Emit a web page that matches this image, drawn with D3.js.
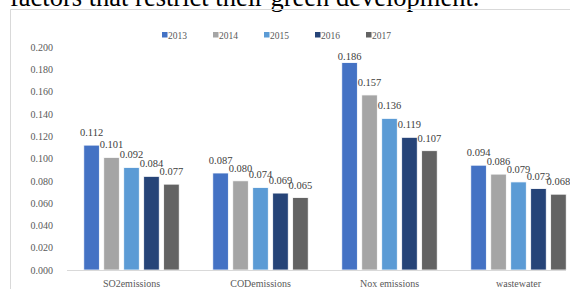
<!DOCTYPE html>
<html>
<head>
<meta charset="utf-8">
<style>
body { margin: 0; background: #fff; }
svg { display: block; font-family: "Liberation Serif", "Times New Roman", serif; }
</style>
</head>
<body>
<script src="https://cdn.jsdelivr.net/npm/d3@7/dist/d3.min.js"></script>
<script>
var categories = ["SO2emissions", "CODemissions", "Nox emissions", "wastewater"];
var years = ["2013", "2014", "2015", "2016", "2017"];
var v2013 = [0.112, 0.087, 0.186, 0.094];
var v2014 = [0.101, 0.080, 0.157, 0.086];
var v2015 = [0.092, 0.074, 0.136, 0.079];
var v2016 = [0.084, 0.069, 0.119, 0.073];
var v2017 = [0.077, 0.065, 0.107, 0.068];
var yTicks = [0, 0.02, 0.04, 0.06, 0.08, 0.10, 0.12, 0.14, 0.16, 0.18, 0.20];

var series = [v2013, v2014, v2015, v2016, v2017];
var colors = ["#4472c4", "#a5a5a5", "#5b9bd5", "#264478", "#636363"];

var width = 570, height = 289;

var svg = d3.select("body").append("svg")
    .attr("width", width)
    .attr("height", height);

// caption text from the page above the chart, cut off at the top
svg.append("text")
    .attr("x", 10)
    .attr("y", 6)
    .style("font-size", "26.5px")
    .style("fill", "#000")
    .text("factors that restrict their green development.");

// chart frame
svg.append("path")
    .attr("d", "M10.5,289 V9.5 H570")
    .attr("fill", "none")
    .attr("stroke", "#d9d9d9");

var y = d3.scaleLinear().domain([0, 0.2]).range([270, 47]);

var x0 = d3.scaleBand()
    .domain(categories)
    .range([67, 583])
    .paddingInner(0.26)
    .paddingOuter(0.13);

var x1 = d3.scaleBand()
    .domain(years)
    .range([0, x0.bandwidth()])
    .paddingInner(0.22);

// y axis labels
var yAxis = d3.axisLeft(y)
    .tickValues(yTicks)
    .tickSize(0)
    .tickPadding(0)
    .tickFormat(d3.format(".3f"));

var ga = svg.append("g")
    .attr("transform", "translate(53,0)")
    .call(yAxis);
ga.select(".domain").remove();
ga.selectAll("text")
    .style("font-family", "Liberation Serif, serif")
    .style("font-size", "10px")
    .style("fill", "#595959");

// bars
var groups = svg.selectAll("g.cat")
    .data(categories)
    .enter().append("g")
    .attr("class", "cat")
    .attr("transform", function(d) { return "translate(" + x0(d) + ",0)"; });

groups.each(function(c, ci) {
    var g = d3.select(this);
    var rows = years.map(function(yr, si) { return { year: yr, value: series[si][ci], color: colors[si] }; });
    g.selectAll("rect")
        .data(rows)
        .enter().append("rect")
        .attr("x", function(d) { return x1(d.year); })
        .attr("y", function(d) { return y(d.value); })
        .attr("width", x1.bandwidth())
        .attr("height", function(d) { return y(0) - y(d.value); })
        .attr("fill", function(d) { return d.color; })
        .attr("stroke", "#ffffff")
        .attr("stroke-width", 0.8);
    g.selectAll("text.lbl")
        .data(rows)
        .enter().append("text")
        .attr("class", "lbl")
        .attr("x", function(d) { return x1(d.year) + x1.bandwidth() / 2; })
        .attr("y", function(d) { return Math.max(y(d.value) - 9, 60); })
        .attr("text-anchor", "middle")
        .style("font-size", "10.5px")
        .style("fill", "#404040")
        .text(function(d) { return d3.format(".3f")(d.value); });
});

// x axis line
svg.append("line")
    .attr("x1", 67).attr("x2", 566)
    .attr("y1", y(0) + 0.5).attr("y2", y(0) + 0.5)
    .attr("stroke", "#d9d9d9")
    .attr("stroke-width", 1);

// category labels
svg.selectAll("text.cat")
    .data(categories)
    .enter().append("text")
    .attr("class", "cat")
    .attr("x", function(d) { return x0(d) + x0.bandwidth() / 2; })
    .attr("y", 287)
    .attr("text-anchor", "middle")
    .style("font-size", "10px")
    .style("fill", "#595959")
    .text(function(d) { return d; });

// legend
var legend = svg.selectAll("g.leg")
    .data(years)
    .enter().append("g")
    .attr("class", "leg")
    .attr("transform", function(d, i) { return "translate(" + (162 + i * 51) + ",35)"; });
legend.append("rect")
    .attr("x", 0).attr("y", -3)
    .attr("width", 5.5).attr("height", 5.5)
    .attr("fill", function(d, i) { return colors[i]; });
legend.append("text")
    .attr("x", 6)
    .attr("y", 3.5)
    .style("font-size", "9.5px")
    .style("fill", "#595959")
    .text(function(d) { return d; });
</script>
</body>
</html>
